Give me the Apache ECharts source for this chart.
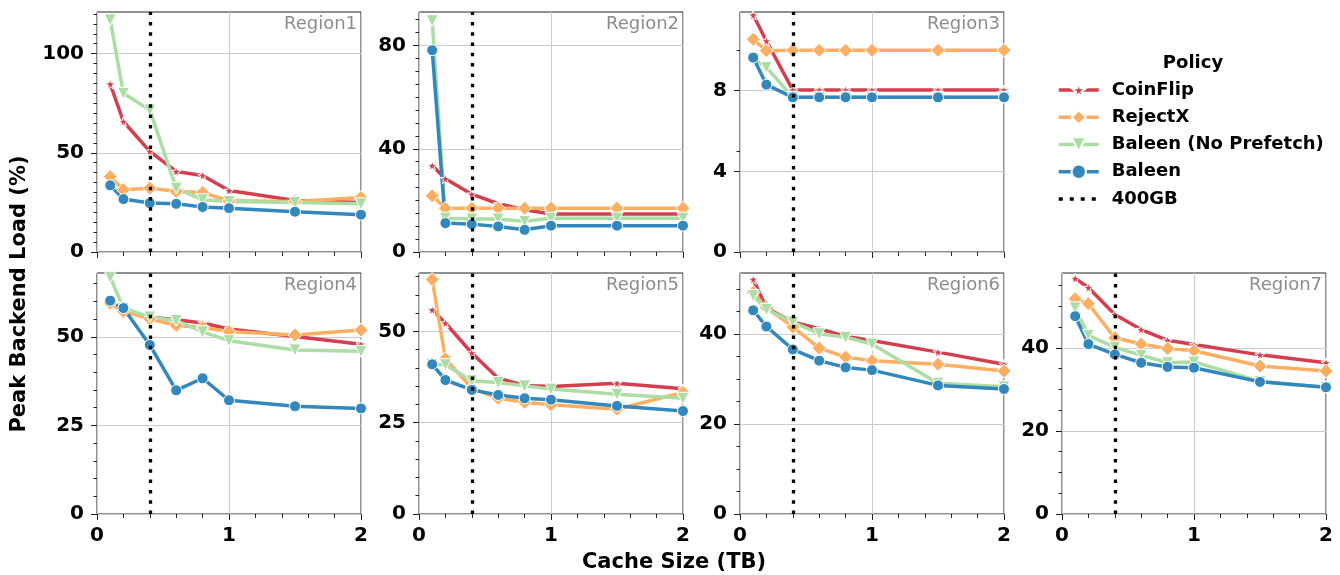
<!DOCTYPE html>
<html><head><meta charset="utf-8">
<script src="https://cdn.jsdelivr.net/npm/echarts@6/dist/echarts.min.js"></script>
<style>html,body{margin:0;padding:0;background:#fff}#c{width:1340px;height:575px}</style>
</head><body><div id="c"></div>
<script>
// ---------------- data ----------------
const cacheSizes = [0.1, 0.2, 0.4, 0.6, 0.8, 1.0, 1.5, 2.0];
const policies = ['CoinFlip', 'RejectX', 'Baleen (No Prefetch)', 'Baleen'];
const regionNames = ['Region1', 'Region2', 'Region3', 'Region4', 'Region5', 'Region6', 'Region7'];

const r1CoinFlip = [84.7, 65.8, 50.7, 40.6, 38.6, 31.0, 26.0, 25.0];
const r1RejectX  = [38.0, 31.4, 32.2, 30.5, 30.0, 25.8, 25.5, 27.5];
const r1NoPref   = [117.0, 80.0, 71.6, 32.2, 26.3, 25.5, 25.0, 24.3];
const r1Baleen   = [33.6, 26.7, 24.7, 24.3, 22.7, 22.1, 20.3, 18.8];

const r2CoinFlip = [33.5, 28.4, 22.4, 18.7, 16.4, 14.7, 14.7, 14.7];
const r2RejectX  = [21.8, 17.0, 17.0, 17.0, 17.0, 17.0, 17.0, 17.0];
const r2NoPref   = [89.6, 13.1, 12.8, 12.8, 11.9, 13.1, 13.1, 13.1];
const r2Baleen   = [78.2, 11.2, 10.8, 9.9, 8.6, 10.2, 10.2, 10.2];

const r3CoinFlip = [11.75, 10.46, 8.03, 8.03, 8.03, 8.03, 8.03, 8.03];
const r3RejectX  = [10.55, 9.98, 10.0, 10.0, 10.0, 10.0, 10.0, 10.0];
const r3NoPref   = [9.6, 9.15, 7.67, 7.67, 7.67, 7.67, 7.67, 7.67];
const r3Baleen   = [9.64, 8.3, 7.67, 7.67, 7.67, 7.67, 7.67, 7.67];

const r4CoinFlip = [59.5, 57.3, 55.6, 54.8, 53.9, 52.2, 50.1, 47.9];
const r4RejectX  = [59.5, 57.2, 55.1, 53.2, 52.6, 51.5, 50.5, 51.9];
const r4NoPref   = [66.8, 58.1, 55.6, 54.6, 51.4, 48.9, 46.3, 45.9];
const r4Baleen   = [60.2, 58.1, 47.7, 34.9, 38.3, 32.1, 30.4, 29.8];

const r5CoinFlip = [55.9, 52.3, 44.1, 37.2, 35.2, 34.9, 35.8, 34.3];
const r5RejectX  = [64.2, 42.5, 34.5, 31.7, 30.6, 29.9, 28.7, 33.3];
const r5NoPref   = [41.0, 40.9, 36.5, 36.0, 35.1, 34.2, 32.8, 31.7];
const r5Baleen   = [41.0, 36.7, 34.0, 32.6, 31.7, 31.3, 29.6, 28.2];

const r6CoinFlip = [52.2, 45.8, 42.7, 41.2, 39.5, 38.6, 36.0, 33.3];
const r6RejectX  = [49.3, 45.9, 41.6, 36.9, 34.9, 34.1, 33.3, 31.8];
const r6NoPref   = [48.6, 45.5, 42.7, 40.1, 39.3, 37.8, 29.1, 28.3];
const r6Baleen   = [45.3, 41.7, 36.6, 34.1, 32.6, 32.0, 28.6, 27.8];

const r7CoinFlip = [56.7, 54.5, 48.0, 44.4, 41.8, 40.8, 38.3, 36.4];
const r7RejectX  = [51.8, 50.6, 42.4, 40.9, 39.8, 39.3, 35.6, 34.4];
const r7NoPref   = [49.6, 43.0, 40.1, 38.2, 36.4, 36.6, 31.9, 30.5];
const r7Baleen   = [47.6, 40.9, 38.4, 36.4, 35.4, 35.2, 31.8, 30.5];

const yMaxes = [121, 93, 11.9, 68, 66, 53.6, 58];
const yTickLabels = [[0, 50, 100], [0, 40, 80], [0, 4, 8], [0, 25, 50], [0, 25, 50], [0, 20, 40], [0, 20, 40]];
const xTickLabels = [0, 1, 2];
const markerCacheSize = 0.4;

// ---------------- build ----------------
const regionData = [
  [r1CoinFlip, r1RejectX, r1NoPref, r1Baleen],
  [r2CoinFlip, r2RejectX, r2NoPref, r2Baleen],
  [r3CoinFlip, r3RejectX, r3NoPref, r3Baleen],
  [r4CoinFlip, r4RejectX, r4NoPref, r4Baleen],
  [r5CoinFlip, r5RejectX, r5NoPref, r5Baleen],
  [r6CoinFlip, r6RejectX, r6NoPref, r6Baleen],
  [r7CoinFlip, r7RejectX, r7NoPref, r7Baleen]
];
const colors = ['#d53e4f', '#fdae61', '#abdda4', '#3288bd'];
const starPath = 'path://M50,0 L61,35 L98,35 L68,57 L79,91 L50,70 L21,91 L32,57 L2,35 L39,35 Z';
const symbols = [starPath, 'diamond', 'triangle', 'circle'];
const symbolSizes = [10, 14, 12, 11];
const symbolRot = [0, 0, 180, 0];
const FONT = 'DejaVu Sans';

const colLeft = [97, 419, 740, 1062];
const rowTop = [12, 273];
const rowH = [240, 241];
const PW = 264;
const pos = [[0,0],[0,1],[0,2],[1,0],[1,1],[1,2],[1,3]];

const grid = [], xAxis = [], yAxis = [], series = [], graphic = [];
const tickColor = '#222';
const gridLineColor = '#cccccc';

pos.forEach(([r, c], i) => {
  const left = colLeft[c], top = rowTop[r], h = rowH[r];
  grid.push({left: left, top: top, width: PW, height: h, show: true,
    borderColor: '#222', borderWidth: 1, backgroundColor: 'transparent', containLabel: false, outerBoundsMode: 'none'});
  xAxis.push({gridIndex: i, type: 'value', min: 0, max: 2, interval: 1,
    axisLine: {show: false},
    axisTick: {show: true, length: 6, lineStyle: {color: tickColor, width: 1}},
    minorTick: {show: true, splitNumber: 5, length: 4, lineStyle: {color: tickColor, width: 1}},
    axisLabel: {show: r === 1, margin: 12, fontFamily: FONT, fontWeight: 'bold', fontSize: 20, color: '#000'},
    splitLine: {show: true, lineStyle: {color: gridLineColor, width: 1}},
    minorSplitLine: {show: false}
  });
  yAxis.push({gridIndex: i, type: 'value', min: 0, max: yMaxes[i],
    interval: yTickLabels[i][1] - yTickLabels[i][0], position: 'left',
    axisLine: {show: false},
    axisTick: {show: true, length: 6, lineStyle: {color: tickColor, width: 1}, customValues: yTickLabels[i]},
    axisLabel: {margin: 13, fontFamily: FONT, fontWeight: 'bold', fontSize: 20, color: '#000', customValues: yTickLabels[i]},
    splitLine: {show: true, lineStyle: {color: gridLineColor, width: 1}}
  });
  regionData[i].forEach((vals, k) => {
    series.push({
      name: policies[k], type: 'line', xAxisIndex: i, yAxisIndex: i,
      data: cacheSizes.map((x, j) => [x, vals[j]]),
      color: colors[k],
      lineStyle: {width: 3.5, color: colors[k], type: 'solid'},
      symbol: symbols[k], symbolSize: symbolSizes[k], symbolRotate: symbolRot[k],
      showSymbol: true,
      itemStyle: {color: colors[k], borderColor: '#fff', borderWidth: 1},
      emphasis: {disabled: true}, animation: false, z: 3
    });
  });
  series.push({
    name: '400GB', type: 'line', xAxisIndex: i, yAxisIndex: i, data: [],
    color: '#000', symbol: 'none', symbolSize: 0,
    lineStyle: {color: '#000', width: 3.5, type: [4, 7]},
    markLine: {silent: true, symbol: 'none', animation: false, label: {show: false},
      lineStyle: {color: '#000', width: 3.3, type: [3.5, 6.8]},
      data: [{xAxis: markerCacheSize}]},
    z: 5, animation: false
  });
  graphic.push({type: 'text', x: left + PW - 4, y: top + 3, z: 10,
    style: {text: regionNames[i], font: '18px "DejaVu Sans"', fill: '#8c8c8c', textAlign: 'right', textVerticalAlign: 'top'}});
});

// minor y ticks (every 5 units)
pos.forEach((p, i) => {
  const minor = [];
  for (let v = 0; v <= yMaxes[i]; v += 5) minor.push(v);
  yAxis.push({gridIndex: i, type: 'value', min: 0, max: yMaxes[i], position: 'left', offset: 0,
    axisLine: {show: false},
    axisTick: {show: true, length: 3.5, lineStyle: {color: tickColor, width: 1}, customValues: minor},
    axisLabel: {show: false}, splitLine: {show: false}
  });
});

graphic.push({type: 'text', x: 1193, y: 54,
  style: {text: 'Policy', font: 'bold 18px "DejaVu Sans"', fill: '#000', textAlign: 'center', textVerticalAlign: 'top'}});
graphic.push({type: 'text', x: 674, y: 563,
  style: {text: 'Cache Size (TB)', font: 'bold 21px "DejaVu Sans"', fill: '#000', textAlign: 'center', textVerticalAlign: 'middle'}});
graphic.push({type: 'text', x: 20, y: 294, rotation: Math.PI / 2,
  style: {text: 'Peak Backend Load (%)', font: 'bold 21px "DejaVu Sans"', fill: '#000', textAlign: 'center', textVerticalAlign: 'middle'}});

const legendData = policies.map((n, k) => ({name: n, lineStyle: {color: colors[k], width: 3.5, type: 'solid'}}));
legendData.push({name: '400GB', itemStyle: {opacity: 0}, lineStyle: {color: '#000', width: 3.5, type: [4, 7], opacity: 1}});

const option = {
  backgroundColor: '#fff',
  animation: false,
  textStyle: {fontFamily: FONT},
  grid, xAxis, yAxis, series, graphic,
  legend: {
    orient: 'vertical', left: 1057, top: 81, padding: 0,
    itemWidth: 40, itemHeight: 18, itemGap: 9.25,
    selectedMode: false,
    textStyle: {fontFamily: FONT, fontWeight: 'bold', fontSize: 18, color: '#000', padding: [0, 0, 0, 8]},
    data: legendData
  }
};
const chart = echarts.init(document.getElementById('c'), null, {renderer: 'canvas'});
chart.setOption(option);
</script>
</body></html>
